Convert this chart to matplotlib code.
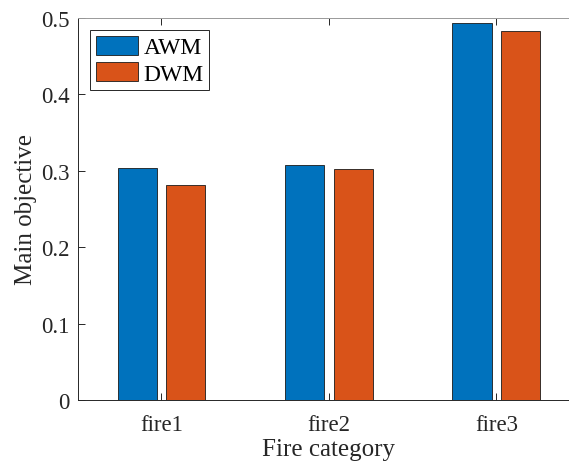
import matplotlib.pyplot as plt
import numpy as np

categories = ["fire1", "fire2", "fire3"]
awm = [0.304, 0.3075, 0.493]
dwm = [0.281, 0.302, 0.482]

plt.rcParams['font.family'] = ['Liberation Serif', 'DejaVu Serif']

fig = plt.figure(figsize=(5.69, 4.64), dpi=100)
ax = fig.add_axes([0.1366, 0.1358, 0.883, 0.824])

x = np.arange(1, len(categories) + 1)
w = 0.235
off = 0.145
ax.bar(x - off, awm, w, color='#0072BD', edgecolor='#1a1a1a', linewidth=0.6, label='AWM')
ax.bar(x + off, dwm, w, color='#D95319', edgecolor='#1a1a1a', linewidth=0.6, label='DWM')

ax.set_xlim(0.5, 3.5)
ax.set_ylim(0, 0.5)
ax.set_xticks(x)
ax.set_xticklabels(categories)
ax.set_yticks([0, 0.1, 0.2, 0.3, 0.4, 0.5])
ax.set_yticklabels(['0', '0.1', '0.2', '0.3', '0.4', '0.5'])

for s in ax.spines.values():
    s.set_color('#262626')
    s.set_linewidth(0.7)
ax.spines['top'].set_color('#999999')
ax.tick_params(direction='in', length=5, width=0.7, top=True, right=True,
               labelsize=16.5, colors='#262626')
ax.tick_params(axis='x', pad=10)
ax.tick_params(axis='y', pad=6)

ax.set_xlabel('Fire category', fontsize=18, color='#262626', labelpad=2)
ax.set_ylabel('Main objective', fontsize=18, color='#262626', labelpad=3)

leg = ax.legend(loc='upper left', bbox_to_anchor=(0.025, 0.968), fontsize=17,
                fancybox=False, framealpha=1, edgecolor='#262626',
                handlelength=1.75, handleheight=0.85, handletextpad=0.25,
                borderpad=0.25, labelspacing=0.15, borderaxespad=0)
leg.get_frame().set_linewidth(0.7)

fig.savefig('out.png', dpi=100)
